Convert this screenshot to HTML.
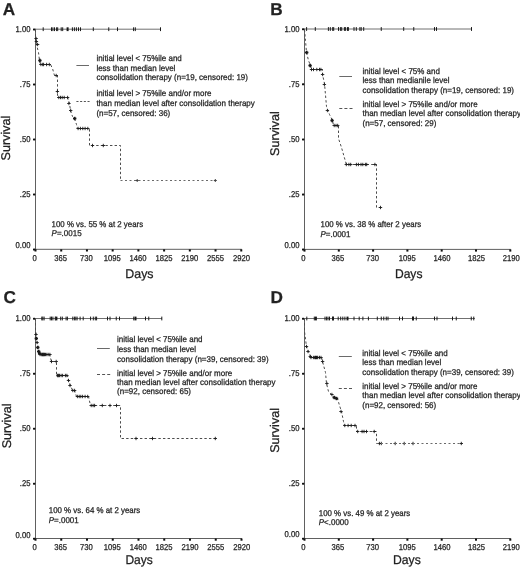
<!DOCTYPE html>
<html><head><meta charset="utf-8"><title>Survival curves</title>
<style>
html,body{margin:0;padding:0;background:#fff;}
body{width:520px;height:567px;overflow:hidden;font-family:"Liberation Sans", sans-serif;}
svg{display:block;font-family:"Liberation Sans", sans-serif;will-change:transform;text-rendering:geometricPrecision;}
.t{fill:#222;stroke:#222;stroke-width:0.25px;}
</style></head>
<body>
<svg width="520" height="567" viewBox="0 0 520 567">
<rect x="0" y="0" width="520" height="567" fill="#ffffff"/>
<g id="panelA">
<line x1="35.50" y1="28.70" x2="35.50" y2="249.80" stroke="#606060" stroke-width="1.0"/>
<line x1="35.00" y1="249.30" x2="241.76" y2="249.30" stroke="#606060" stroke-width="1.0"/>
<rect x="33.00" y="28.40" width="2.3" height="2.0" rx="0.6" fill="#111"/>
<text class="t" transform="translate(30.50,31.70) scale(0.9,1)" font-size="8.5" text-anchor="end">1.00</text>
<rect x="33.00" y="83.43" width="2.3" height="2.0" rx="0.6" fill="#111"/>
<text class="t" transform="translate(30.50,86.73) scale(0.9,1)" font-size="8.5" text-anchor="end">.75</text>
<rect x="33.00" y="138.45" width="2.3" height="2.0" rx="0.6" fill="#111"/>
<text class="t" transform="translate(30.50,141.75) scale(0.9,1)" font-size="8.5" text-anchor="end">.50</text>
<rect x="33.00" y="193.47" width="2.3" height="2.0" rx="0.6" fill="#111"/>
<text class="t" transform="translate(30.50,196.78) scale(0.9,1)" font-size="8.5" text-anchor="end">.25</text>
<rect x="33.00" y="248.50" width="2.3" height="2.0" rx="0.6" fill="#111"/>
<text class="t" transform="translate(30.50,247.60) scale(0.9,1)" font-size="8.5" text-anchor="end">0.00</text>
<rect x="34.50" y="249.30" width="2.0" height="2.2" fill="#111"/>
<text class="t" transform="translate(34.70,260.90) scale(0.9,1)" font-size="8.5" text-anchor="middle">0</text>
<rect x="60.22" y="249.30" width="2.0" height="2.2" fill="#111"/>
<text class="t" transform="translate(60.54,260.90) scale(0.9,1)" font-size="8.5" text-anchor="middle">365</text>
<rect x="85.94" y="249.30" width="2.0" height="2.2" fill="#111"/>
<text class="t" transform="translate(86.38,260.90) scale(0.9,1)" font-size="8.5" text-anchor="middle">730</text>
<rect x="111.66" y="249.30" width="2.0" height="2.2" fill="#111"/>
<text class="t" transform="translate(112.22,260.90) scale(0.9,1)" font-size="8.5" text-anchor="middle">1095</text>
<rect x="137.38" y="249.30" width="2.0" height="2.2" fill="#111"/>
<text class="t" transform="translate(138.06,260.90) scale(0.9,1)" font-size="8.5" text-anchor="middle">1460</text>
<rect x="163.10" y="249.30" width="2.0" height="2.2" fill="#111"/>
<text class="t" transform="translate(163.90,260.90) scale(0.9,1)" font-size="8.5" text-anchor="middle">1825</text>
<rect x="188.82" y="249.30" width="2.0" height="2.2" fill="#111"/>
<text class="t" transform="translate(189.74,260.90) scale(0.9,1)" font-size="8.5" text-anchor="middle">2190</text>
<rect x="214.54" y="249.30" width="2.0" height="2.2" fill="#111"/>
<text class="t" transform="translate(215.58,260.90) scale(0.9,1)" font-size="8.5" text-anchor="middle">2555</text>
<rect x="240.26" y="249.30" width="2.0" height="2.2" fill="#111"/>
<text class="t" transform="translate(241.42,260.90) scale(0.9,1)" font-size="8.5" text-anchor="middle">2920</text>
<text class="t" transform="translate(125.30,277.80) scale(0.985,1)" font-size="12.6">Days</text>
<text class="t" transform="translate(9.80,160.50) rotate(-90) scale(1.0,1)" font-size="12.6">Survival</text>
<text class="t" transform="translate(2.80,14.80) scale(1,1)" font-size="17.2" font-weight="bold" fill="#000" stroke="#000">A</text>
<line x1="35.50" y1="29.20" x2="160.75" y2="29.20" stroke="#707070" stroke-width="1.0"/>
<line x1="43.20" y1="27.30" x2="43.20" y2="31.10" stroke="#1a1a1a" stroke-width="1.0"/>
<line x1="51.50" y1="27.30" x2="51.50" y2="31.10" stroke="#1a1a1a" stroke-width="1.0"/>
<line x1="52.90" y1="27.30" x2="52.90" y2="31.10" stroke="#1a1a1a" stroke-width="1.0"/>
<line x1="54.50" y1="27.30" x2="54.50" y2="31.10" stroke="#1a1a1a" stroke-width="1.0"/>
<line x1="56.60" y1="27.30" x2="56.60" y2="31.10" stroke="#1a1a1a" stroke-width="1.0"/>
<line x1="57.70" y1="27.30" x2="57.70" y2="31.10" stroke="#1a1a1a" stroke-width="1.0"/>
<line x1="61.20" y1="27.30" x2="61.20" y2="31.10" stroke="#1a1a1a" stroke-width="1.0"/>
<line x1="62.70" y1="27.30" x2="62.70" y2="31.10" stroke="#1a1a1a" stroke-width="1.0"/>
<line x1="67.60" y1="27.30" x2="67.60" y2="31.10" stroke="#1a1a1a" stroke-width="2.0"/>
<line x1="72.40" y1="27.30" x2="72.40" y2="31.10" stroke="#1a1a1a" stroke-width="1.0"/>
<line x1="74.40" y1="27.30" x2="74.40" y2="31.10" stroke="#1a1a1a" stroke-width="1.0"/>
<line x1="76.40" y1="27.30" x2="76.40" y2="31.10" stroke="#1a1a1a" stroke-width="1.0"/>
<line x1="78.50" y1="27.30" x2="78.50" y2="31.10" stroke="#1a1a1a" stroke-width="1.0"/>
<line x1="80.50" y1="27.30" x2="80.50" y2="31.10" stroke="#1a1a1a" stroke-width="1.0"/>
<line x1="93.30" y1="27.30" x2="93.30" y2="31.10" stroke="#1a1a1a" stroke-width="1.0"/>
<line x1="108.75" y1="27.30" x2="108.75" y2="31.10" stroke="#1a1a1a" stroke-width="1.0"/>
<line x1="117.50" y1="27.30" x2="117.50" y2="31.10" stroke="#1a1a1a" stroke-width="1.0"/>
<line x1="133.60" y1="27.30" x2="133.60" y2="31.10" stroke="#1a1a1a" stroke-width="1.0"/>
<line x1="135.30" y1="27.30" x2="135.30" y2="31.10" stroke="#1a1a1a" stroke-width="1.0"/>
<line x1="160.50" y1="27.30" x2="160.50" y2="31.10" stroke="#1a1a1a" stroke-width="1.0"/>
<polyline points="35.50,29.50 35.50,40.50 36.50,44.50 38.50,52.50 39.50,60.50 40.50,64.50 50.50,64.50 52.50,68.50 54.50,75.50 57.50,75.50 57.50,97.50 67.50,97.50 69.50,103.50 70.50,110.50 72.50,116.50 74.50,118.50 76.50,124.50 77.50,128.50 89.50,128.50 89.50,145.50 120.50,145.50 120.50,180.50" fill="none" stroke="#4c4c4c" stroke-width="1.0" stroke-dasharray="2.4 2.2"/>
<line x1="36.10" y1="36.80" x2="36.10" y2="40.20" stroke="#1a1a1a" stroke-width="0.9"/>
<line x1="34.40" y1="38.50" x2="37.80" y2="38.50" stroke="#1a1a1a" stroke-width="0.9"/>
<line x1="36.40" y1="39.80" x2="36.40" y2="43.20" stroke="#1a1a1a" stroke-width="0.9"/>
<line x1="34.70" y1="41.50" x2="38.10" y2="41.50" stroke="#1a1a1a" stroke-width="0.9"/>
<line x1="37.60" y1="42.80" x2="37.60" y2="46.20" stroke="#1a1a1a" stroke-width="0.9"/>
<line x1="35.90" y1="44.50" x2="39.30" y2="44.50" stroke="#1a1a1a" stroke-width="0.9"/>
<line x1="39.90" y1="58.80" x2="39.90" y2="62.20" stroke="#1a1a1a" stroke-width="1.7"/>
<line x1="38.20" y1="60.50" x2="41.60" y2="60.50" stroke="#1a1a1a" stroke-width="1.7"/>
<line x1="40.90" y1="62.80" x2="40.90" y2="66.20" stroke="#1a1a1a" stroke-width="0.9"/>
<line x1="39.20" y1="64.50" x2="42.60" y2="64.50" stroke="#1a1a1a" stroke-width="0.9"/>
<line x1="42.70" y1="62.80" x2="42.70" y2="66.20" stroke="#1a1a1a" stroke-width="0.9"/>
<line x1="41.00" y1="64.50" x2="44.40" y2="64.50" stroke="#1a1a1a" stroke-width="0.9"/>
<line x1="43.60" y1="62.80" x2="43.60" y2="66.20" stroke="#1a1a1a" stroke-width="0.9"/>
<line x1="41.90" y1="64.50" x2="45.30" y2="64.50" stroke="#1a1a1a" stroke-width="0.9"/>
<line x1="46.60" y1="62.80" x2="46.60" y2="66.20" stroke="#1a1a1a" stroke-width="0.9"/>
<line x1="44.90" y1="64.50" x2="48.30" y2="64.50" stroke="#1a1a1a" stroke-width="0.9"/>
<line x1="49.30" y1="62.80" x2="49.30" y2="66.20" stroke="#1a1a1a" stroke-width="0.9"/>
<line x1="47.60" y1="64.50" x2="51.00" y2="64.50" stroke="#1a1a1a" stroke-width="0.9"/>
<line x1="56.20" y1="73.80" x2="56.20" y2="77.20" stroke="#1a1a1a" stroke-width="0.9"/>
<line x1="54.50" y1="75.50" x2="57.90" y2="75.50" stroke="#1a1a1a" stroke-width="0.9"/>
<line x1="57.40" y1="89.80" x2="57.40" y2="93.20" stroke="#1a1a1a" stroke-width="0.9"/>
<line x1="55.70" y1="91.50" x2="59.10" y2="91.50" stroke="#1a1a1a" stroke-width="0.9"/>
<line x1="58.80" y1="95.80" x2="58.80" y2="99.20" stroke="#1a1a1a" stroke-width="0.9"/>
<line x1="57.10" y1="97.50" x2="60.50" y2="97.50" stroke="#1a1a1a" stroke-width="0.9"/>
<line x1="60.50" y1="95.80" x2="60.50" y2="99.20" stroke="#1a1a1a" stroke-width="0.9"/>
<line x1="58.80" y1="97.50" x2="62.20" y2="97.50" stroke="#1a1a1a" stroke-width="0.9"/>
<line x1="62.20" y1="95.80" x2="62.20" y2="99.20" stroke="#1a1a1a" stroke-width="0.9"/>
<line x1="60.50" y1="97.50" x2="63.90" y2="97.50" stroke="#1a1a1a" stroke-width="0.9"/>
<line x1="64.20" y1="95.80" x2="64.20" y2="99.20" stroke="#1a1a1a" stroke-width="0.9"/>
<line x1="62.50" y1="97.50" x2="65.90" y2="97.50" stroke="#1a1a1a" stroke-width="0.9"/>
<line x1="67.60" y1="95.80" x2="67.60" y2="99.20" stroke="#1a1a1a" stroke-width="0.9"/>
<line x1="65.90" y1="97.50" x2="69.30" y2="97.50" stroke="#1a1a1a" stroke-width="0.9"/>
<line x1="68.90" y1="101.80" x2="68.90" y2="105.20" stroke="#1a1a1a" stroke-width="0.9"/>
<line x1="67.20" y1="103.50" x2="70.60" y2="103.50" stroke="#1a1a1a" stroke-width="0.9"/>
<line x1="70.70" y1="108.80" x2="70.70" y2="112.20" stroke="#1a1a1a" stroke-width="0.9"/>
<line x1="69.00" y1="110.50" x2="72.40" y2="110.50" stroke="#1a1a1a" stroke-width="0.9"/>
<line x1="74.70" y1="116.80" x2="74.70" y2="120.20" stroke="#1a1a1a" stroke-width="1.7"/>
<line x1="73.00" y1="118.50" x2="76.40" y2="118.50" stroke="#1a1a1a" stroke-width="1.7"/>
<line x1="78.10" y1="126.80" x2="78.10" y2="130.20" stroke="#1a1a1a" stroke-width="0.9"/>
<line x1="76.40" y1="128.50" x2="79.80" y2="128.50" stroke="#1a1a1a" stroke-width="0.9"/>
<line x1="80.40" y1="126.80" x2="80.40" y2="130.20" stroke="#1a1a1a" stroke-width="0.9"/>
<line x1="78.70" y1="128.50" x2="82.10" y2="128.50" stroke="#1a1a1a" stroke-width="0.9"/>
<line x1="82.80" y1="126.80" x2="82.80" y2="130.20" stroke="#1a1a1a" stroke-width="0.9"/>
<line x1="81.10" y1="128.50" x2="84.50" y2="128.50" stroke="#1a1a1a" stroke-width="0.9"/>
<line x1="85.10" y1="126.80" x2="85.10" y2="130.20" stroke="#1a1a1a" stroke-width="0.9"/>
<line x1="83.40" y1="128.50" x2="86.80" y2="128.50" stroke="#1a1a1a" stroke-width="0.9"/>
<line x1="87.80" y1="126.80" x2="87.80" y2="130.20" stroke="#1a1a1a" stroke-width="0.9"/>
<line x1="86.10" y1="128.50" x2="89.50" y2="128.50" stroke="#1a1a1a" stroke-width="0.9"/>
<line x1="92.50" y1="143.80" x2="92.50" y2="147.20" stroke="#1a1a1a" stroke-width="0.9"/>
<line x1="90.80" y1="145.50" x2="94.20" y2="145.50" stroke="#1a1a1a" stroke-width="0.9"/>
<line x1="103.30" y1="143.80" x2="103.30" y2="147.20" stroke="#1a1a1a" stroke-width="0.9"/>
<line x1="101.60" y1="145.50" x2="105.00" y2="145.50" stroke="#1a1a1a" stroke-width="0.9"/>
<polyline points="120.50,180.50 215.50,180.50" fill="none" stroke="#6a6a6a" stroke-width="1.0" stroke-dasharray="2 2.5"/>
<line x1="137.20" y1="179.00" x2="137.20" y2="182.00" stroke="#444" stroke-width="1.0"/>
<line x1="135.70" y1="180.50" x2="138.70" y2="180.50" stroke="#444" stroke-width="1.0"/>
<line x1="215.30" y1="179.00" x2="215.30" y2="182.00" stroke="#444" stroke-width="1.0"/>
<line x1="213.80" y1="180.50" x2="216.80" y2="180.50" stroke="#444" stroke-width="1.0"/>
<line x1="76.40" y1="65.50" x2="89.00" y2="65.50" stroke="#6a6a6a" stroke-width="1.0"/>
<line x1="76.40" y1="101.50" x2="89.60" y2="101.50" stroke="#555" stroke-width="1.0" stroke-dasharray="2.1 1.6"/>
<text class="t" transform="translate(96.40,61.20) scale(0.953,1)" font-size="8.4">initial level &lt; 75%ile and</text>
<text class="t" transform="translate(96.40,70.80) scale(0.953,1)" font-size="8.4">less than median level</text>
<text class="t" transform="translate(96.40,80.40) scale(0.953,1)" font-size="8.4">consolidation therapy (n=19, censored: 19)</text>
<text class="t" transform="translate(96.40,96.20) scale(0.953,1)" font-size="8.4">initial level &gt; 75%ile and/or more</text>
<text class="t" transform="translate(96.40,105.70) scale(0.953,1)" font-size="8.4">than median level after consolidation therapy</text>
<text class="t" transform="translate(96.40,115.60) scale(0.953,1)" font-size="8.4">(n=57, censored: 36)</text>
<text class="t" transform="translate(51.60,226.80) scale(0.9406,1)" font-size="8.4">100 % vs. 55 % at 2 years</text>
<text class="t" transform="translate(51.60,236.10) scale(0.953,1)" font-size="8.4"><tspan font-style="italic">P</tspan>=.0015</text>
</g>
<g id="panelB">
<line x1="304.50" y1="28.50" x2="304.50" y2="249.90" stroke="#606060" stroke-width="1.0"/>
<line x1="304.00" y1="249.40" x2="510.80" y2="249.40" stroke="#606060" stroke-width="1.0"/>
<rect x="302.00" y="28.20" width="2.3" height="2.0" rx="0.6" fill="#111"/>
<text class="t" transform="translate(299.50,31.50) scale(0.9,1)" font-size="8.5" text-anchor="end">1.00</text>
<rect x="302.00" y="83.30" width="2.3" height="2.0" rx="0.6" fill="#111"/>
<text class="t" transform="translate(299.50,86.60) scale(0.9,1)" font-size="8.5" text-anchor="end">.75</text>
<rect x="302.00" y="138.40" width="2.3" height="2.0" rx="0.6" fill="#111"/>
<text class="t" transform="translate(299.50,141.70) scale(0.9,1)" font-size="8.5" text-anchor="end">.50</text>
<rect x="302.00" y="193.50" width="2.3" height="2.0" rx="0.6" fill="#111"/>
<text class="t" transform="translate(299.50,196.80) scale(0.9,1)" font-size="8.5" text-anchor="end">.25</text>
<rect x="302.00" y="248.60" width="2.3" height="2.0" rx="0.6" fill="#111"/>
<text class="t" transform="translate(299.50,248.10) scale(0.9,1)" font-size="8.5" text-anchor="end">0.00</text>
<rect x="303.50" y="249.40" width="2.0" height="2.2" fill="#111"/>
<text class="t" transform="translate(303.30,261.00) scale(0.9,1)" font-size="8.5" text-anchor="middle">0</text>
<rect x="337.80" y="249.40" width="2.0" height="2.2" fill="#111"/>
<text class="t" transform="translate(337.95,261.00) scale(0.9,1)" font-size="8.5" text-anchor="middle">365</text>
<rect x="372.10" y="249.40" width="2.0" height="2.2" fill="#111"/>
<text class="t" transform="translate(372.60,261.00) scale(0.9,1)" font-size="8.5" text-anchor="middle">730</text>
<rect x="406.40" y="249.40" width="2.0" height="2.2" fill="#111"/>
<text class="t" transform="translate(407.25,261.00) scale(0.9,1)" font-size="8.5" text-anchor="middle">1095</text>
<rect x="440.70" y="249.40" width="2.0" height="2.2" fill="#111"/>
<text class="t" transform="translate(441.90,261.00) scale(0.9,1)" font-size="8.5" text-anchor="middle">1460</text>
<rect x="475.00" y="249.40" width="2.0" height="2.2" fill="#111"/>
<text class="t" transform="translate(476.55,261.00) scale(0.9,1)" font-size="8.5" text-anchor="middle">1825</text>
<rect x="509.30" y="249.40" width="2.0" height="2.2" fill="#111"/>
<text class="t" transform="translate(511.20,261.00) scale(0.9,1)" font-size="8.5" text-anchor="middle">2190</text>
<text class="t" transform="translate(394.90,278.20) scale(0.96,1)" font-size="12.6">Days</text>
<text class="t" transform="translate(279.20,155.90) rotate(-90) scale(1.0,1)" font-size="12.6">Survival</text>
<text class="t" transform="translate(270.30,15.00) scale(1,1)" font-size="17.2" font-weight="bold" fill="#000" stroke="#000">B</text>
<line x1="304.50" y1="29.00" x2="471.75" y2="29.00" stroke="#707070" stroke-width="1.0"/>
<line x1="306.60" y1="27.10" x2="306.60" y2="30.90" stroke="#1a1a1a" stroke-width="1.0"/>
<line x1="315.30" y1="27.10" x2="315.30" y2="30.90" stroke="#1a1a1a" stroke-width="1.0"/>
<line x1="328.40" y1="27.10" x2="328.40" y2="30.90" stroke="#1a1a1a" stroke-width="1.0"/>
<line x1="330.30" y1="27.10" x2="330.30" y2="30.90" stroke="#1a1a1a" stroke-width="1.0"/>
<line x1="332.70" y1="27.10" x2="332.70" y2="30.90" stroke="#1a1a1a" stroke-width="1.0"/>
<line x1="333.70" y1="27.10" x2="333.70" y2="30.90" stroke="#1a1a1a" stroke-width="1.0"/>
<line x1="338.50" y1="27.10" x2="338.50" y2="30.90" stroke="#1a1a1a" stroke-width="1.0"/>
<line x1="340.40" y1="27.10" x2="340.40" y2="30.90" stroke="#1a1a1a" stroke-width="1.0"/>
<line x1="341.70" y1="27.10" x2="341.70" y2="30.90" stroke="#1a1a1a" stroke-width="1.0"/>
<line x1="344.40" y1="27.10" x2="344.40" y2="30.90" stroke="#1a1a1a" stroke-width="1.0"/>
<line x1="345.40" y1="27.10" x2="345.40" y2="30.90" stroke="#1a1a1a" stroke-width="1.0"/>
<line x1="347.90" y1="27.10" x2="347.90" y2="30.90" stroke="#1a1a1a" stroke-width="2.0"/>
<line x1="354.00" y1="27.10" x2="354.00" y2="30.90" stroke="#1a1a1a" stroke-width="1.0"/>
<line x1="356.30" y1="27.10" x2="356.30" y2="30.90" stroke="#1a1a1a" stroke-width="1.0"/>
<line x1="359.90" y1="27.10" x2="359.90" y2="30.90" stroke="#1a1a1a" stroke-width="1.0"/>
<line x1="361.20" y1="27.10" x2="361.20" y2="30.90" stroke="#1a1a1a" stroke-width="1.0"/>
<line x1="363.70" y1="27.10" x2="363.70" y2="30.90" stroke="#1a1a1a" stroke-width="1.0"/>
<line x1="381.25" y1="27.10" x2="381.25" y2="30.90" stroke="#1a1a1a" stroke-width="1.0"/>
<line x1="403.70" y1="27.10" x2="403.70" y2="30.90" stroke="#1a1a1a" stroke-width="1.0"/>
<line x1="413.75" y1="27.10" x2="413.75" y2="30.90" stroke="#1a1a1a" stroke-width="1.0"/>
<line x1="434.50" y1="27.10" x2="434.50" y2="30.90" stroke="#1a1a1a" stroke-width="1.0"/>
<line x1="436.50" y1="27.10" x2="436.50" y2="30.90" stroke="#1a1a1a" stroke-width="1.0"/>
<line x1="471.50" y1="27.10" x2="471.50" y2="30.90" stroke="#1a1a1a" stroke-width="1.0"/>
<polyline points="304.50,29.50 305.50,40.50 306.50,52.50 308.50,60.50 310.50,65.50 311.50,69.50 322.50,69.50 322.50,74.50 324.50,83.50 326.50,106.50 329.50,114.50 332.50,120.50 333.50,125.50 338.50,125.50 338.50,138.50 341.50,147.50 345.50,161.50 346.50,164.50 376.50,164.50 376.50,207.50 382.50,207.50" fill="none" stroke="#4c4c4c" stroke-width="1.0" stroke-dasharray="2.4 2.2"/>
<line x1="306.70" y1="50.80" x2="306.70" y2="54.20" stroke="#1a1a1a" stroke-width="1.7"/>
<line x1="305.00" y1="52.50" x2="308.40" y2="52.50" stroke="#1a1a1a" stroke-width="1.7"/>
<line x1="310.10" y1="63.80" x2="310.10" y2="67.20" stroke="#1a1a1a" stroke-width="1.7"/>
<line x1="308.40" y1="65.50" x2="311.80" y2="65.50" stroke="#1a1a1a" stroke-width="1.7"/>
<line x1="311.50" y1="67.80" x2="311.50" y2="71.20" stroke="#1a1a1a" stroke-width="0.9"/>
<line x1="309.80" y1="69.50" x2="313.20" y2="69.50" stroke="#1a1a1a" stroke-width="0.9"/>
<line x1="313.50" y1="67.80" x2="313.50" y2="71.20" stroke="#1a1a1a" stroke-width="0.9"/>
<line x1="311.80" y1="69.50" x2="315.20" y2="69.50" stroke="#1a1a1a" stroke-width="0.9"/>
<line x1="316.80" y1="67.80" x2="316.80" y2="71.20" stroke="#1a1a1a" stroke-width="0.9"/>
<line x1="315.10" y1="69.50" x2="318.50" y2="69.50" stroke="#1a1a1a" stroke-width="0.9"/>
<line x1="319.50" y1="67.80" x2="319.50" y2="71.20" stroke="#1a1a1a" stroke-width="0.9"/>
<line x1="317.80" y1="69.50" x2="321.20" y2="69.50" stroke="#1a1a1a" stroke-width="0.9"/>
<line x1="320.90" y1="67.80" x2="320.90" y2="71.20" stroke="#1a1a1a" stroke-width="0.9"/>
<line x1="319.20" y1="69.50" x2="322.60" y2="69.50" stroke="#1a1a1a" stroke-width="0.9"/>
<line x1="322.60" y1="72.80" x2="322.60" y2="76.20" stroke="#1a1a1a" stroke-width="0.9"/>
<line x1="320.90" y1="74.50" x2="324.30" y2="74.50" stroke="#1a1a1a" stroke-width="0.9"/>
<line x1="324.40" y1="82.80" x2="324.40" y2="86.20" stroke="#1a1a1a" stroke-width="0.9"/>
<line x1="322.70" y1="84.50" x2="326.10" y2="84.50" stroke="#1a1a1a" stroke-width="0.9"/>
<line x1="327.40" y1="108.80" x2="327.40" y2="112.20" stroke="#1a1a1a" stroke-width="0.9"/>
<line x1="325.70" y1="110.50" x2="329.10" y2="110.50" stroke="#1a1a1a" stroke-width="0.9"/>
<line x1="332.10" y1="118.80" x2="332.10" y2="122.20" stroke="#1a1a1a" stroke-width="1.7"/>
<line x1="330.40" y1="120.50" x2="333.80" y2="120.50" stroke="#1a1a1a" stroke-width="1.7"/>
<line x1="334.20" y1="123.80" x2="334.20" y2="127.20" stroke="#1a1a1a" stroke-width="0.9"/>
<line x1="332.50" y1="125.50" x2="335.90" y2="125.50" stroke="#1a1a1a" stroke-width="0.9"/>
<line x1="336.00" y1="123.80" x2="336.00" y2="127.20" stroke="#1a1a1a" stroke-width="0.9"/>
<line x1="334.30" y1="125.50" x2="337.70" y2="125.50" stroke="#1a1a1a" stroke-width="0.9"/>
<line x1="337.70" y1="123.80" x2="337.70" y2="127.20" stroke="#1a1a1a" stroke-width="0.9"/>
<line x1="336.00" y1="125.50" x2="339.40" y2="125.50" stroke="#1a1a1a" stroke-width="0.9"/>
<line x1="346.30" y1="162.80" x2="346.30" y2="166.20" stroke="#1a1a1a" stroke-width="0.9"/>
<line x1="344.60" y1="164.50" x2="348.00" y2="164.50" stroke="#1a1a1a" stroke-width="0.9"/>
<line x1="348.90" y1="162.80" x2="348.90" y2="166.20" stroke="#1a1a1a" stroke-width="0.9"/>
<line x1="347.20" y1="164.50" x2="350.60" y2="164.50" stroke="#1a1a1a" stroke-width="0.9"/>
<line x1="350.70" y1="162.80" x2="350.70" y2="166.20" stroke="#1a1a1a" stroke-width="0.9"/>
<line x1="349.00" y1="164.50" x2="352.40" y2="164.50" stroke="#1a1a1a" stroke-width="0.9"/>
<line x1="356.40" y1="162.80" x2="356.40" y2="166.20" stroke="#1a1a1a" stroke-width="0.9"/>
<line x1="354.70" y1="164.50" x2="358.10" y2="164.50" stroke="#1a1a1a" stroke-width="0.9"/>
<line x1="358.40" y1="162.80" x2="358.40" y2="166.20" stroke="#1a1a1a" stroke-width="0.9"/>
<line x1="356.70" y1="164.50" x2="360.10" y2="164.50" stroke="#1a1a1a" stroke-width="0.9"/>
<line x1="361.00" y1="162.80" x2="361.00" y2="166.20" stroke="#1a1a1a" stroke-width="0.9"/>
<line x1="359.30" y1="164.50" x2="362.70" y2="164.50" stroke="#1a1a1a" stroke-width="0.9"/>
<line x1="362.80" y1="162.80" x2="362.80" y2="166.20" stroke="#1a1a1a" stroke-width="0.9"/>
<line x1="361.10" y1="164.50" x2="364.50" y2="164.50" stroke="#1a1a1a" stroke-width="0.9"/>
<line x1="365.40" y1="162.80" x2="365.40" y2="166.20" stroke="#1a1a1a" stroke-width="0.9"/>
<line x1="363.70" y1="164.50" x2="367.10" y2="164.50" stroke="#1a1a1a" stroke-width="0.9"/>
<line x1="366.70" y1="162.80" x2="366.70" y2="166.20" stroke="#1a1a1a" stroke-width="0.9"/>
<line x1="365.00" y1="164.50" x2="368.40" y2="164.50" stroke="#1a1a1a" stroke-width="0.9"/>
<line x1="374.90" y1="162.80" x2="374.90" y2="166.20" stroke="#1a1a1a" stroke-width="0.9"/>
<line x1="373.20" y1="164.50" x2="376.60" y2="164.50" stroke="#1a1a1a" stroke-width="0.9"/>
<line x1="380.50" y1="205.80" x2="380.50" y2="209.20" stroke="#1a1a1a" stroke-width="0.9"/>
<line x1="378.80" y1="207.50" x2="382.20" y2="207.50" stroke="#1a1a1a" stroke-width="0.9"/>
<line x1="339.30" y1="76.50" x2="352.00" y2="76.50" stroke="#6a6a6a" stroke-width="1.0"/>
<line x1="339.30" y1="108.50" x2="352.60" y2="108.50" stroke="#555" stroke-width="1.0" stroke-dasharray="3 2.1"/>
<text class="t" transform="translate(362.50,73.60) scale(0.953,1)" font-size="8.4">initial level &lt; 75% and</text>
<text class="t" transform="translate(362.50,83.40) scale(0.953,1)" font-size="8.4">less than medianile level</text>
<text class="t" transform="translate(362.50,92.60) scale(0.953,1)" font-size="8.4">consolidation therapy (n=19, censored: 19)</text>
<text class="t" transform="translate(362.50,107.10) scale(0.953,1)" font-size="8.4">initial level &gt; 75%ile and/or more</text>
<text class="t" transform="translate(362.50,115.90) scale(0.953,1)" font-size="8.4">than median level after consolidation therapy</text>
<text class="t" transform="translate(362.50,125.70) scale(0.953,1)" font-size="8.4">(n=57, censored: 29)</text>
<text class="t" transform="translate(320.50,227.00) scale(0.9406,1)" font-size="8.4">100 % vs. 38 % after 2 years</text>
<text class="t" transform="translate(320.50,236.70) scale(0.953,1)" font-size="8.4"><tspan font-style="italic">P</tspan>=.0001</text>
</g>
<g id="panelC">
<line x1="35.50" y1="318.00" x2="35.50" y2="539.00" stroke="#606060" stroke-width="1.0"/>
<line x1="35.00" y1="538.50" x2="242.00" y2="538.50" stroke="#606060" stroke-width="1.0"/>
<rect x="33.00" y="317.70" width="2.3" height="2.0" rx="0.6" fill="#111"/>
<text class="t" transform="translate(30.50,321.00) scale(0.9,1)" font-size="8.5" text-anchor="end">1.00</text>
<rect x="33.00" y="372.70" width="2.3" height="2.0" rx="0.6" fill="#111"/>
<text class="t" transform="translate(30.50,376.00) scale(0.9,1)" font-size="8.5" text-anchor="end">.75</text>
<rect x="33.00" y="427.70" width="2.3" height="2.0" rx="0.6" fill="#111"/>
<text class="t" transform="translate(30.50,431.00) scale(0.9,1)" font-size="8.5" text-anchor="end">.50</text>
<rect x="33.00" y="482.70" width="2.3" height="2.0" rx="0.6" fill="#111"/>
<text class="t" transform="translate(30.50,486.00) scale(0.9,1)" font-size="8.5" text-anchor="end">.25</text>
<rect x="33.00" y="537.70" width="2.3" height="2.0" rx="0.6" fill="#111"/>
<text class="t" transform="translate(30.50,537.70) scale(0.9,1)" font-size="8.5" text-anchor="end">0.00</text>
<rect x="34.50" y="538.50" width="2.0" height="2.2" fill="#111"/>
<text class="t" transform="translate(34.70,550.10) scale(0.9,1)" font-size="8.5" text-anchor="middle">0</text>
<rect x="60.25" y="538.50" width="2.0" height="2.2" fill="#111"/>
<text class="t" transform="translate(60.57,550.10) scale(0.9,1)" font-size="8.5" text-anchor="middle">365</text>
<rect x="86.00" y="538.50" width="2.0" height="2.2" fill="#111"/>
<text class="t" transform="translate(86.44,550.10) scale(0.9,1)" font-size="8.5" text-anchor="middle">730</text>
<rect x="111.75" y="538.50" width="2.0" height="2.2" fill="#111"/>
<text class="t" transform="translate(112.31,550.10) scale(0.9,1)" font-size="8.5" text-anchor="middle">1095</text>
<rect x="137.50" y="538.50" width="2.0" height="2.2" fill="#111"/>
<text class="t" transform="translate(138.18,550.10) scale(0.9,1)" font-size="8.5" text-anchor="middle">1460</text>
<rect x="163.25" y="538.50" width="2.0" height="2.2" fill="#111"/>
<text class="t" transform="translate(164.05,550.10) scale(0.9,1)" font-size="8.5" text-anchor="middle">1825</text>
<rect x="189.00" y="538.50" width="2.0" height="2.2" fill="#111"/>
<text class="t" transform="translate(189.92,550.10) scale(0.9,1)" font-size="8.5" text-anchor="middle">2190</text>
<rect x="214.75" y="538.50" width="2.0" height="2.2" fill="#111"/>
<text class="t" transform="translate(215.79,550.10) scale(0.9,1)" font-size="8.5" text-anchor="middle">2555</text>
<rect x="240.50" y="538.50" width="2.0" height="2.2" fill="#111"/>
<text class="t" transform="translate(241.66,550.10) scale(0.9,1)" font-size="8.5" text-anchor="middle">2920</text>
<text class="t" transform="translate(125.40,564.00) scale(0.955,1)" font-size="12.6">Days</text>
<text class="t" transform="translate(10.50,448.30) rotate(-90) scale(1.0,1)" font-size="12.6">Survival</text>
<text class="t" transform="translate(3.60,303.20) scale(1,1)" font-size="17.2" font-weight="bold" fill="#000" stroke="#000">C</text>
<line x1="35.50" y1="318.50" x2="162.00" y2="318.50" stroke="#707070" stroke-width="1.0"/>
<line x1="41.80" y1="316.60" x2="41.80" y2="320.40" stroke="#1a1a1a" stroke-width="1.0"/>
<line x1="42.80" y1="316.60" x2="42.80" y2="320.40" stroke="#1a1a1a" stroke-width="1.0"/>
<line x1="44.10" y1="316.60" x2="44.10" y2="320.40" stroke="#1a1a1a" stroke-width="1.0"/>
<line x1="50.20" y1="316.60" x2="50.20" y2="320.40" stroke="#1a1a1a" stroke-width="1.0"/>
<line x1="51.50" y1="316.60" x2="51.50" y2="320.40" stroke="#1a1a1a" stroke-width="1.0"/>
<line x1="52.90" y1="316.60" x2="52.90" y2="320.40" stroke="#1a1a1a" stroke-width="1.0"/>
<line x1="55.30" y1="316.60" x2="55.30" y2="320.40" stroke="#1a1a1a" stroke-width="1.0"/>
<line x1="56.40" y1="316.60" x2="56.40" y2="320.40" stroke="#1a1a1a" stroke-width="2.0"/>
<line x1="60.70" y1="316.60" x2="60.70" y2="320.40" stroke="#1a1a1a" stroke-width="1.0"/>
<line x1="62.30" y1="316.60" x2="62.30" y2="320.40" stroke="#1a1a1a" stroke-width="1.0"/>
<line x1="66.10" y1="316.60" x2="66.10" y2="320.40" stroke="#1a1a1a" stroke-width="1.0"/>
<line x1="67.40" y1="316.60" x2="67.40" y2="320.40" stroke="#1a1a1a" stroke-width="1.0"/>
<line x1="72.80" y1="316.60" x2="72.80" y2="320.40" stroke="#1a1a1a" stroke-width="1.0"/>
<line x1="74.40" y1="316.60" x2="74.40" y2="320.40" stroke="#1a1a1a" stroke-width="1.0"/>
<line x1="75.80" y1="316.60" x2="75.80" y2="320.40" stroke="#1a1a1a" stroke-width="1.0"/>
<line x1="77.10" y1="316.60" x2="77.10" y2="320.40" stroke="#1a1a1a" stroke-width="1.0"/>
<line x1="80.10" y1="316.60" x2="80.10" y2="320.40" stroke="#1a1a1a" stroke-width="1.0"/>
<line x1="83.20" y1="316.60" x2="83.20" y2="320.40" stroke="#1a1a1a" stroke-width="1.0"/>
<line x1="90.60" y1="316.60" x2="90.60" y2="320.40" stroke="#1a1a1a" stroke-width="1.0"/>
<line x1="93.30" y1="316.60" x2="93.30" y2="320.40" stroke="#1a1a1a" stroke-width="1.0"/>
<line x1="95.30" y1="316.60" x2="95.30" y2="320.40" stroke="#1a1a1a" stroke-width="1.0"/>
<line x1="96.60" y1="316.60" x2="96.60" y2="320.40" stroke="#1a1a1a" stroke-width="1.0"/>
<line x1="107.50" y1="316.60" x2="107.50" y2="320.40" stroke="#1a1a1a" stroke-width="1.0"/>
<line x1="110.00" y1="316.60" x2="110.00" y2="320.40" stroke="#1a1a1a" stroke-width="1.0"/>
<line x1="116.25" y1="316.60" x2="116.25" y2="320.40" stroke="#1a1a1a" stroke-width="1.0"/>
<line x1="119.50" y1="316.60" x2="119.50" y2="320.40" stroke="#1a1a1a" stroke-width="1.0"/>
<line x1="133.75" y1="316.60" x2="133.75" y2="320.40" stroke="#1a1a1a" stroke-width="1.0"/>
<line x1="135.50" y1="316.60" x2="135.50" y2="320.40" stroke="#1a1a1a" stroke-width="2.0"/>
<line x1="145.50" y1="316.60" x2="145.50" y2="320.40" stroke="#1a1a1a" stroke-width="1.0"/>
<line x1="148.75" y1="316.60" x2="148.75" y2="320.40" stroke="#1a1a1a" stroke-width="1.0"/>
<line x1="161.80" y1="316.60" x2="161.80" y2="320.40" stroke="#1a1a1a" stroke-width="1.0"/>
<polyline points="35.50,318.50 35.50,330.50 36.50,339.50 37.50,342.50 38.50,351.50 39.50,354.50 49.50,354.50 51.50,361.50 56.50,361.50 56.50,375.50 67.50,375.50 68.50,380.50 70.50,385.50 72.50,390.50 74.50,390.50 76.50,396.50 88.50,396.50 90.50,405.50 120.50,405.50 120.50,438.50 215.50,438.50" fill="none" stroke="#4c4c4c" stroke-width="1.0" stroke-dasharray="2.4 2.2"/>
<line x1="36.00" y1="332.80" x2="36.00" y2="336.20" stroke="#1a1a1a" stroke-width="0.9"/>
<line x1="34.30" y1="334.50" x2="37.70" y2="334.50" stroke="#1a1a1a" stroke-width="0.9"/>
<line x1="36.30" y1="336.80" x2="36.30" y2="340.20" stroke="#1a1a1a" stroke-width="1.7"/>
<line x1="34.60" y1="338.50" x2="38.00" y2="338.50" stroke="#1a1a1a" stroke-width="1.7"/>
<line x1="37.00" y1="340.80" x2="37.00" y2="344.20" stroke="#1a1a1a" stroke-width="0.9"/>
<line x1="35.30" y1="342.50" x2="38.70" y2="342.50" stroke="#1a1a1a" stroke-width="0.9"/>
<line x1="37.80" y1="345.80" x2="37.80" y2="349.20" stroke="#1a1a1a" stroke-width="1.7"/>
<line x1="36.10" y1="347.50" x2="39.50" y2="347.50" stroke="#1a1a1a" stroke-width="1.7"/>
<line x1="38.70" y1="349.80" x2="38.70" y2="353.20" stroke="#1a1a1a" stroke-width="1.7"/>
<line x1="37.00" y1="351.50" x2="40.40" y2="351.50" stroke="#1a1a1a" stroke-width="1.7"/>
<line x1="39.60" y1="351.80" x2="39.60" y2="355.20" stroke="#1a1a1a" stroke-width="1.7"/>
<line x1="37.90" y1="353.50" x2="41.30" y2="353.50" stroke="#1a1a1a" stroke-width="1.7"/>
<line x1="40.10" y1="352.80" x2="40.10" y2="356.20" stroke="#1a1a1a" stroke-width="0.9"/>
<line x1="38.40" y1="354.50" x2="41.80" y2="354.50" stroke="#1a1a1a" stroke-width="0.9"/>
<line x1="42.10" y1="352.80" x2="42.10" y2="356.20" stroke="#1a1a1a" stroke-width="1.7"/>
<line x1="40.40" y1="354.50" x2="43.80" y2="354.50" stroke="#1a1a1a" stroke-width="1.7"/>
<line x1="43.20" y1="352.80" x2="43.20" y2="356.20" stroke="#1a1a1a" stroke-width="0.9"/>
<line x1="41.50" y1="354.50" x2="44.90" y2="354.50" stroke="#1a1a1a" stroke-width="0.9"/>
<line x1="44.10" y1="352.80" x2="44.10" y2="356.20" stroke="#1a1a1a" stroke-width="1.7"/>
<line x1="42.40" y1="354.50" x2="45.80" y2="354.50" stroke="#1a1a1a" stroke-width="1.7"/>
<line x1="45.50" y1="352.80" x2="45.50" y2="356.20" stroke="#1a1a1a" stroke-width="0.9"/>
<line x1="43.80" y1="354.50" x2="47.20" y2="354.50" stroke="#1a1a1a" stroke-width="0.9"/>
<line x1="46.80" y1="352.80" x2="46.80" y2="356.20" stroke="#1a1a1a" stroke-width="0.9"/>
<line x1="45.10" y1="354.50" x2="48.50" y2="354.50" stroke="#1a1a1a" stroke-width="0.9"/>
<line x1="48.20" y1="352.80" x2="48.20" y2="356.20" stroke="#1a1a1a" stroke-width="0.9"/>
<line x1="46.50" y1="354.50" x2="49.90" y2="354.50" stroke="#1a1a1a" stroke-width="0.9"/>
<line x1="49.90" y1="352.80" x2="49.90" y2="356.20" stroke="#1a1a1a" stroke-width="0.9"/>
<line x1="48.20" y1="354.50" x2="51.60" y2="354.50" stroke="#1a1a1a" stroke-width="0.9"/>
<line x1="51.50" y1="359.80" x2="51.50" y2="363.20" stroke="#1a1a1a" stroke-width="0.9"/>
<line x1="49.80" y1="361.50" x2="53.20" y2="361.50" stroke="#1a1a1a" stroke-width="0.9"/>
<line x1="56.20" y1="359.80" x2="56.20" y2="363.20" stroke="#1a1a1a" stroke-width="0.9"/>
<line x1="54.50" y1="361.50" x2="57.90" y2="361.50" stroke="#1a1a1a" stroke-width="0.9"/>
<line x1="58.00" y1="373.80" x2="58.00" y2="377.20" stroke="#1a1a1a" stroke-width="1.7"/>
<line x1="56.30" y1="375.50" x2="59.70" y2="375.50" stroke="#1a1a1a" stroke-width="1.7"/>
<line x1="59.50" y1="373.80" x2="59.50" y2="377.20" stroke="#1a1a1a" stroke-width="0.9"/>
<line x1="57.80" y1="375.50" x2="61.20" y2="375.50" stroke="#1a1a1a" stroke-width="0.9"/>
<line x1="61.10" y1="373.80" x2="61.10" y2="377.20" stroke="#1a1a1a" stroke-width="0.9"/>
<line x1="59.40" y1="375.50" x2="62.80" y2="375.50" stroke="#1a1a1a" stroke-width="0.9"/>
<line x1="62.60" y1="373.80" x2="62.60" y2="377.20" stroke="#1a1a1a" stroke-width="0.9"/>
<line x1="60.90" y1="375.50" x2="64.30" y2="375.50" stroke="#1a1a1a" stroke-width="0.9"/>
<line x1="65.40" y1="373.80" x2="65.40" y2="377.20" stroke="#1a1a1a" stroke-width="0.9"/>
<line x1="63.70" y1="375.50" x2="67.10" y2="375.50" stroke="#1a1a1a" stroke-width="0.9"/>
<line x1="66.90" y1="373.80" x2="66.90" y2="377.20" stroke="#1a1a1a" stroke-width="0.9"/>
<line x1="65.20" y1="375.50" x2="68.60" y2="375.50" stroke="#1a1a1a" stroke-width="0.9"/>
<line x1="68.50" y1="378.80" x2="68.50" y2="382.20" stroke="#1a1a1a" stroke-width="0.9"/>
<line x1="66.80" y1="380.50" x2="70.20" y2="380.50" stroke="#1a1a1a" stroke-width="0.9"/>
<line x1="70.00" y1="383.80" x2="70.00" y2="387.20" stroke="#1a1a1a" stroke-width="0.9"/>
<line x1="68.30" y1="385.50" x2="71.70" y2="385.50" stroke="#1a1a1a" stroke-width="0.9"/>
<line x1="72.80" y1="388.80" x2="72.80" y2="392.20" stroke="#1a1a1a" stroke-width="0.9"/>
<line x1="71.10" y1="390.50" x2="74.50" y2="390.50" stroke="#1a1a1a" stroke-width="0.9"/>
<line x1="74.60" y1="388.80" x2="74.60" y2="392.20" stroke="#1a1a1a" stroke-width="0.9"/>
<line x1="72.90" y1="390.50" x2="76.30" y2="390.50" stroke="#1a1a1a" stroke-width="0.9"/>
<line x1="77.40" y1="394.80" x2="77.40" y2="398.20" stroke="#1a1a1a" stroke-width="0.9"/>
<line x1="75.70" y1="396.50" x2="79.10" y2="396.50" stroke="#1a1a1a" stroke-width="0.9"/>
<line x1="79.20" y1="394.80" x2="79.20" y2="398.20" stroke="#1a1a1a" stroke-width="0.9"/>
<line x1="77.50" y1="396.50" x2="80.90" y2="396.50" stroke="#1a1a1a" stroke-width="0.9"/>
<line x1="80.80" y1="394.80" x2="80.80" y2="398.20" stroke="#1a1a1a" stroke-width="0.9"/>
<line x1="79.10" y1="396.50" x2="82.50" y2="396.50" stroke="#1a1a1a" stroke-width="0.9"/>
<line x1="82.60" y1="394.80" x2="82.60" y2="398.20" stroke="#1a1a1a" stroke-width="0.9"/>
<line x1="80.90" y1="396.50" x2="84.30" y2="396.50" stroke="#1a1a1a" stroke-width="0.9"/>
<line x1="85.10" y1="394.80" x2="85.10" y2="398.20" stroke="#1a1a1a" stroke-width="0.9"/>
<line x1="83.40" y1="396.50" x2="86.80" y2="396.50" stroke="#1a1a1a" stroke-width="0.9"/>
<line x1="87.70" y1="394.80" x2="87.70" y2="398.20" stroke="#1a1a1a" stroke-width="0.9"/>
<line x1="86.00" y1="396.50" x2="89.40" y2="396.50" stroke="#1a1a1a" stroke-width="0.9"/>
<line x1="91.20" y1="403.80" x2="91.20" y2="407.20" stroke="#1a1a1a" stroke-width="0.9"/>
<line x1="89.50" y1="405.50" x2="92.90" y2="405.50" stroke="#1a1a1a" stroke-width="0.9"/>
<line x1="93.10" y1="403.80" x2="93.10" y2="407.20" stroke="#1a1a1a" stroke-width="0.9"/>
<line x1="91.40" y1="405.50" x2="94.80" y2="405.50" stroke="#1a1a1a" stroke-width="0.9"/>
<line x1="94.60" y1="403.80" x2="94.60" y2="407.20" stroke="#1a1a1a" stroke-width="0.9"/>
<line x1="92.90" y1="405.50" x2="96.30" y2="405.50" stroke="#1a1a1a" stroke-width="0.9"/>
<line x1="102.30" y1="403.80" x2="102.30" y2="407.20" stroke="#1a1a1a" stroke-width="0.9"/>
<line x1="100.60" y1="405.50" x2="104.00" y2="405.50" stroke="#1a1a1a" stroke-width="0.9"/>
<line x1="110.00" y1="403.80" x2="110.00" y2="407.20" stroke="#1a1a1a" stroke-width="0.9"/>
<line x1="108.30" y1="405.50" x2="111.70" y2="405.50" stroke="#1a1a1a" stroke-width="0.9"/>
<line x1="116.50" y1="403.80" x2="116.50" y2="407.20" stroke="#1a1a1a" stroke-width="0.9"/>
<line x1="114.80" y1="405.50" x2="118.20" y2="405.50" stroke="#1a1a1a" stroke-width="0.9"/>
<line x1="136.00" y1="436.80" x2="136.00" y2="440.20" stroke="#1a1a1a" stroke-width="0.9"/>
<line x1="134.30" y1="438.50" x2="137.70" y2="438.50" stroke="#1a1a1a" stroke-width="0.9"/>
<line x1="152.50" y1="436.80" x2="152.50" y2="440.20" stroke="#1a1a1a" stroke-width="0.9"/>
<line x1="150.80" y1="438.50" x2="154.20" y2="438.50" stroke="#1a1a1a" stroke-width="0.9"/>
<line x1="215.30" y1="436.80" x2="215.30" y2="440.20" stroke="#1a1a1a" stroke-width="0.9"/>
<line x1="213.60" y1="438.50" x2="217.00" y2="438.50" stroke="#1a1a1a" stroke-width="0.9"/>
<line x1="97.00" y1="348.50" x2="109.80" y2="348.50" stroke="#6a6a6a" stroke-width="1.0"/>
<line x1="97.00" y1="374.50" x2="110.40" y2="374.50" stroke="#555" stroke-width="1.0" stroke-dasharray="3 2.1"/>
<text class="t" transform="translate(117.10,342.40) scale(0.953,1)" font-size="8.4">initial level &lt; 75%ile and</text>
<text class="t" transform="translate(117.10,352.20) scale(0.953,1)" font-size="8.4">less than median level</text>
<text class="t" transform="translate(117.10,361.50) scale(0.953,1)" font-size="8.4">consolidation therapy (n=39, censored: 39)</text>
<text class="t" transform="translate(117.10,375.60) scale(0.953,1)" font-size="8.4">initial level &gt; 75%ile and/or more</text>
<text class="t" transform="translate(117.10,384.60) scale(0.953,1)" font-size="8.4">than median level after consolidation therapy</text>
<text class="t" transform="translate(117.10,393.60) scale(0.953,1)" font-size="8.4">(n=92, censored: 65)</text>
<text class="t" transform="translate(48.75,512.80) scale(0.9406,1)" font-size="8.4">100 % vs. 64 % at 2 years</text>
<text class="t" transform="translate(48.75,522.90) scale(0.953,1)" font-size="8.4"><tspan font-style="italic">P</tspan>=.0001</text>
</g>
<g id="panelD">
<line x1="304.50" y1="318.00" x2="304.50" y2="539.00" stroke="#606060" stroke-width="1.0"/>
<line x1="304.00" y1="538.50" x2="510.80" y2="538.50" stroke="#606060" stroke-width="1.0"/>
<rect x="302.00" y="317.70" width="2.3" height="2.0" rx="0.6" fill="#111"/>
<text class="t" transform="translate(299.50,321.00) scale(0.9,1)" font-size="8.5" text-anchor="end">1.00</text>
<rect x="302.00" y="372.70" width="2.3" height="2.0" rx="0.6" fill="#111"/>
<text class="t" transform="translate(299.50,376.00) scale(0.9,1)" font-size="8.5" text-anchor="end">.75</text>
<rect x="302.00" y="427.70" width="2.3" height="2.0" rx="0.6" fill="#111"/>
<text class="t" transform="translate(299.50,431.00) scale(0.9,1)" font-size="8.5" text-anchor="end">.50</text>
<rect x="302.00" y="482.70" width="2.3" height="2.0" rx="0.6" fill="#111"/>
<text class="t" transform="translate(299.50,486.00) scale(0.9,1)" font-size="8.5" text-anchor="end">.25</text>
<rect x="302.00" y="537.70" width="2.3" height="2.0" rx="0.6" fill="#111"/>
<text class="t" transform="translate(299.50,537.20) scale(0.9,1)" font-size="8.5" text-anchor="end">0.00</text>
<rect x="303.50" y="538.50" width="2.0" height="2.2" fill="#111"/>
<text class="t" transform="translate(303.30,550.10) scale(0.9,1)" font-size="8.5" text-anchor="middle">0</text>
<rect x="337.80" y="538.50" width="2.0" height="2.2" fill="#111"/>
<text class="t" transform="translate(337.95,550.10) scale(0.9,1)" font-size="8.5" text-anchor="middle">365</text>
<rect x="372.10" y="538.50" width="2.0" height="2.2" fill="#111"/>
<text class="t" transform="translate(372.60,550.10) scale(0.9,1)" font-size="8.5" text-anchor="middle">730</text>
<rect x="406.40" y="538.50" width="2.0" height="2.2" fill="#111"/>
<text class="t" transform="translate(407.25,550.10) scale(0.9,1)" font-size="8.5" text-anchor="middle">1095</text>
<rect x="440.70" y="538.50" width="2.0" height="2.2" fill="#111"/>
<text class="t" transform="translate(441.90,550.10) scale(0.9,1)" font-size="8.5" text-anchor="middle">1460</text>
<rect x="475.00" y="538.50" width="2.0" height="2.2" fill="#111"/>
<text class="t" transform="translate(476.55,550.10) scale(0.9,1)" font-size="8.5" text-anchor="middle">1825</text>
<rect x="509.30" y="538.50" width="2.0" height="2.2" fill="#111"/>
<text class="t" transform="translate(511.20,550.10) scale(0.9,1)" font-size="8.5" text-anchor="middle">2190</text>
<text class="t" transform="translate(393.00,563.90) scale(0.97,1)" font-size="12.6">Days</text>
<text class="t" transform="translate(279.20,452.80) rotate(-90) scale(1.0,1)" font-size="12.6">Survival</text>
<text class="t" transform="translate(270.40,303.20) scale(1,1)" font-size="17.2" font-weight="bold" fill="#000" stroke="#000">D</text>
<line x1="304.50" y1="318.50" x2="475.00" y2="318.50" stroke="#707070" stroke-width="1.0"/>
<line x1="306.80" y1="316.60" x2="306.80" y2="320.40" stroke="#1a1a1a" stroke-width="1.0"/>
<line x1="314.30" y1="316.60" x2="314.30" y2="320.40" stroke="#1a1a1a" stroke-width="1.0"/>
<line x1="315.90" y1="316.60" x2="315.90" y2="320.40" stroke="#1a1a1a" stroke-width="2.0"/>
<line x1="325.00" y1="316.60" x2="325.00" y2="320.40" stroke="#1a1a1a" stroke-width="1.0"/>
<line x1="326.60" y1="316.60" x2="326.60" y2="320.40" stroke="#1a1a1a" stroke-width="1.0"/>
<line x1="328.00" y1="316.60" x2="328.00" y2="320.40" stroke="#1a1a1a" stroke-width="1.0"/>
<line x1="329.50" y1="316.60" x2="329.50" y2="320.40" stroke="#1a1a1a" stroke-width="1.0"/>
<line x1="333.00" y1="316.60" x2="333.00" y2="320.40" stroke="#1a1a1a" stroke-width="2.0"/>
<line x1="338.20" y1="316.60" x2="338.20" y2="320.40" stroke="#1a1a1a" stroke-width="1.0"/>
<line x1="340.70" y1="316.60" x2="340.70" y2="320.40" stroke="#1a1a1a" stroke-width="1.0"/>
<line x1="342.80" y1="316.60" x2="342.80" y2="320.40" stroke="#1a1a1a" stroke-width="1.0"/>
<line x1="344.90" y1="316.60" x2="344.90" y2="320.40" stroke="#1a1a1a" stroke-width="1.0"/>
<line x1="347.50" y1="316.60" x2="347.50" y2="320.40" stroke="#1a1a1a" stroke-width="2.0"/>
<line x1="354.00" y1="316.60" x2="354.00" y2="320.40" stroke="#1a1a1a" stroke-width="1.0"/>
<line x1="359.20" y1="316.60" x2="359.20" y2="320.40" stroke="#1a1a1a" stroke-width="1.0"/>
<line x1="362.90" y1="316.60" x2="362.90" y2="320.40" stroke="#1a1a1a" stroke-width="1.0"/>
<line x1="368.40" y1="316.60" x2="368.40" y2="320.40" stroke="#1a1a1a" stroke-width="1.0"/>
<line x1="377.30" y1="316.60" x2="377.30" y2="320.40" stroke="#1a1a1a" stroke-width="1.0"/>
<line x1="381.25" y1="316.60" x2="381.25" y2="320.40" stroke="#1a1a1a" stroke-width="1.0"/>
<line x1="383.75" y1="316.60" x2="383.75" y2="320.40" stroke="#1a1a1a" stroke-width="1.0"/>
<line x1="386.25" y1="316.60" x2="386.25" y2="320.40" stroke="#1a1a1a" stroke-width="1.0"/>
<line x1="388.00" y1="316.60" x2="388.00" y2="320.40" stroke="#1a1a1a" stroke-width="1.0"/>
<line x1="399.50" y1="316.60" x2="399.50" y2="320.40" stroke="#1a1a1a" stroke-width="1.0"/>
<line x1="402.50" y1="316.60" x2="402.50" y2="320.40" stroke="#1a1a1a" stroke-width="1.0"/>
<line x1="413.00" y1="316.60" x2="413.00" y2="320.40" stroke="#1a1a1a" stroke-width="2.0"/>
<line x1="416.25" y1="316.60" x2="416.25" y2="320.40" stroke="#1a1a1a" stroke-width="1.0"/>
<line x1="434.50" y1="316.60" x2="434.50" y2="320.40" stroke="#1a1a1a" stroke-width="1.0"/>
<line x1="437.00" y1="316.60" x2="437.00" y2="320.40" stroke="#1a1a1a" stroke-width="1.0"/>
<line x1="452.50" y1="316.60" x2="452.50" y2="320.40" stroke="#1a1a1a" stroke-width="1.0"/>
<line x1="456.25" y1="316.60" x2="456.25" y2="320.40" stroke="#1a1a1a" stroke-width="1.0"/>
<line x1="471.25" y1="316.60" x2="471.25" y2="320.40" stroke="#1a1a1a" stroke-width="1.0"/>
<line x1="473.75" y1="316.60" x2="473.75" y2="320.40" stroke="#1a1a1a" stroke-width="1.0"/>
<polyline points="304.50,318.50 304.50,331.50 306.50,346.50 308.50,351.50 310.50,356.50 311.50,357.50 321.50,357.50 322.50,361.50 325.50,372.50 326.50,383.50 328.50,391.50 331.50,394.50 334.50,398.50 337.50,398.50 339.50,405.50 341.50,411.50 343.50,421.50 344.50,425.50 356.50,425.50 356.50,431.50 376.50,431.50 376.50,443.50" fill="none" stroke="#4c4c4c" stroke-width="1.0" stroke-dasharray="2.4 2.2"/>
<line x1="306.50" y1="344.80" x2="306.50" y2="348.20" stroke="#1a1a1a" stroke-width="0.9"/>
<line x1="304.80" y1="346.50" x2="308.20" y2="346.50" stroke="#1a1a1a" stroke-width="0.9"/>
<line x1="308.00" y1="349.80" x2="308.00" y2="353.20" stroke="#1a1a1a" stroke-width="0.9"/>
<line x1="306.30" y1="351.50" x2="309.70" y2="351.50" stroke="#1a1a1a" stroke-width="0.9"/>
<line x1="310.30" y1="354.80" x2="310.30" y2="358.20" stroke="#1a1a1a" stroke-width="0.9"/>
<line x1="308.60" y1="356.50" x2="312.00" y2="356.50" stroke="#1a1a1a" stroke-width="0.9"/>
<line x1="311.00" y1="355.80" x2="311.00" y2="359.20" stroke="#1a1a1a" stroke-width="0.9"/>
<line x1="309.30" y1="357.50" x2="312.70" y2="357.50" stroke="#1a1a1a" stroke-width="0.9"/>
<line x1="313.40" y1="355.80" x2="313.40" y2="359.20" stroke="#1a1a1a" stroke-width="0.9"/>
<line x1="311.70" y1="357.50" x2="315.10" y2="357.50" stroke="#1a1a1a" stroke-width="0.9"/>
<line x1="315.20" y1="355.80" x2="315.20" y2="359.20" stroke="#1a1a1a" stroke-width="1.7"/>
<line x1="313.50" y1="357.50" x2="316.90" y2="357.50" stroke="#1a1a1a" stroke-width="1.7"/>
<line x1="316.50" y1="355.80" x2="316.50" y2="359.20" stroke="#1a1a1a" stroke-width="1.7"/>
<line x1="314.80" y1="357.50" x2="318.20" y2="357.50" stroke="#1a1a1a" stroke-width="1.7"/>
<line x1="317.70" y1="355.80" x2="317.70" y2="359.20" stroke="#1a1a1a" stroke-width="0.9"/>
<line x1="316.00" y1="357.50" x2="319.40" y2="357.50" stroke="#1a1a1a" stroke-width="0.9"/>
<line x1="319.50" y1="355.80" x2="319.50" y2="359.20" stroke="#1a1a1a" stroke-width="0.9"/>
<line x1="317.80" y1="357.50" x2="321.20" y2="357.50" stroke="#1a1a1a" stroke-width="0.9"/>
<line x1="321.00" y1="355.80" x2="321.00" y2="359.20" stroke="#1a1a1a" stroke-width="0.9"/>
<line x1="319.30" y1="357.50" x2="322.70" y2="357.50" stroke="#1a1a1a" stroke-width="0.9"/>
<line x1="322.60" y1="359.80" x2="322.60" y2="363.20" stroke="#1a1a1a" stroke-width="0.9"/>
<line x1="320.90" y1="361.50" x2="324.30" y2="361.50" stroke="#1a1a1a" stroke-width="0.9"/>
<line x1="326.90" y1="381.80" x2="326.90" y2="385.20" stroke="#1a1a1a" stroke-width="0.9"/>
<line x1="325.20" y1="383.50" x2="328.60" y2="383.50" stroke="#1a1a1a" stroke-width="0.9"/>
<line x1="331.90" y1="392.80" x2="331.90" y2="396.20" stroke="#1a1a1a" stroke-width="0.9"/>
<line x1="330.20" y1="394.50" x2="333.60" y2="394.50" stroke="#1a1a1a" stroke-width="0.9"/>
<line x1="334.20" y1="395.80" x2="334.20" y2="399.20" stroke="#1a1a1a" stroke-width="1.7"/>
<line x1="332.50" y1="397.50" x2="335.90" y2="397.50" stroke="#1a1a1a" stroke-width="1.7"/>
<line x1="336.50" y1="396.80" x2="336.50" y2="400.20" stroke="#1a1a1a" stroke-width="1.7"/>
<line x1="334.80" y1="398.50" x2="338.20" y2="398.50" stroke="#1a1a1a" stroke-width="1.7"/>
<line x1="341.00" y1="409.80" x2="341.00" y2="413.20" stroke="#1a1a1a" stroke-width="0.9"/>
<line x1="339.30" y1="411.50" x2="342.70" y2="411.50" stroke="#1a1a1a" stroke-width="0.9"/>
<line x1="344.80" y1="423.80" x2="344.80" y2="427.20" stroke="#1a1a1a" stroke-width="0.9"/>
<line x1="343.10" y1="425.50" x2="346.50" y2="425.50" stroke="#1a1a1a" stroke-width="0.9"/>
<line x1="348.10" y1="423.80" x2="348.10" y2="427.20" stroke="#1a1a1a" stroke-width="0.9"/>
<line x1="346.40" y1="425.50" x2="349.80" y2="425.50" stroke="#1a1a1a" stroke-width="0.9"/>
<line x1="351.20" y1="423.80" x2="351.20" y2="427.20" stroke="#1a1a1a" stroke-width="0.9"/>
<line x1="349.50" y1="425.50" x2="352.90" y2="425.50" stroke="#1a1a1a" stroke-width="0.9"/>
<line x1="355.00" y1="423.80" x2="355.00" y2="427.20" stroke="#1a1a1a" stroke-width="0.9"/>
<line x1="353.30" y1="425.50" x2="356.70" y2="425.50" stroke="#1a1a1a" stroke-width="0.9"/>
<line x1="357.70" y1="429.80" x2="357.70" y2="433.20" stroke="#1a1a1a" stroke-width="0.9"/>
<line x1="356.00" y1="431.50" x2="359.40" y2="431.50" stroke="#1a1a1a" stroke-width="0.9"/>
<line x1="362.10" y1="429.80" x2="362.10" y2="433.20" stroke="#1a1a1a" stroke-width="0.9"/>
<line x1="360.40" y1="431.50" x2="363.80" y2="431.50" stroke="#1a1a1a" stroke-width="0.9"/>
<line x1="364.00" y1="429.80" x2="364.00" y2="433.20" stroke="#1a1a1a" stroke-width="0.9"/>
<line x1="362.30" y1="431.50" x2="365.70" y2="431.50" stroke="#1a1a1a" stroke-width="0.9"/>
<line x1="366.50" y1="429.80" x2="366.50" y2="433.20" stroke="#1a1a1a" stroke-width="0.9"/>
<line x1="364.80" y1="431.50" x2="368.20" y2="431.50" stroke="#1a1a1a" stroke-width="0.9"/>
<line x1="374.20" y1="429.80" x2="374.20" y2="433.20" stroke="#1a1a1a" stroke-width="0.9"/>
<line x1="372.50" y1="431.50" x2="375.90" y2="431.50" stroke="#1a1a1a" stroke-width="0.9"/>
<line x1="379.40" y1="441.80" x2="379.40" y2="445.20" stroke="#1a1a1a" stroke-width="0.9"/>
<line x1="377.70" y1="443.50" x2="381.10" y2="443.50" stroke="#1a1a1a" stroke-width="0.9"/>
<line x1="381.30" y1="441.80" x2="381.30" y2="445.20" stroke="#1a1a1a" stroke-width="0.9"/>
<line x1="379.60" y1="443.50" x2="383.00" y2="443.50" stroke="#1a1a1a" stroke-width="0.9"/>
<line x1="395.20" y1="441.80" x2="395.20" y2="445.20" stroke="#1a1a1a" stroke-width="0.9"/>
<line x1="393.50" y1="443.50" x2="396.90" y2="443.50" stroke="#1a1a1a" stroke-width="0.9"/>
<line x1="404.20" y1="441.80" x2="404.20" y2="445.20" stroke="#1a1a1a" stroke-width="0.9"/>
<line x1="402.50" y1="443.50" x2="405.90" y2="443.50" stroke="#1a1a1a" stroke-width="0.9"/>
<line x1="413.00" y1="441.80" x2="413.00" y2="445.20" stroke="#1a1a1a" stroke-width="0.9"/>
<line x1="411.30" y1="443.50" x2="414.70" y2="443.50" stroke="#1a1a1a" stroke-width="0.9"/>
<line x1="461.30" y1="441.80" x2="461.30" y2="445.20" stroke="#1a1a1a" stroke-width="0.9"/>
<line x1="459.60" y1="443.50" x2="463.00" y2="443.50" stroke="#1a1a1a" stroke-width="0.9"/>
<polyline points="376.50,443.50 461.50,443.50" fill="none" stroke="#6a6a6a" stroke-width="1.0" stroke-dasharray="2 2.5"/>
<line x1="338.80" y1="356.50" x2="351.80" y2="356.50" stroke="#6a6a6a" stroke-width="1.0"/>
<line x1="338.80" y1="388.50" x2="352.40" y2="388.50" stroke="#555" stroke-width="1.0" stroke-dasharray="3 2.1"/>
<text class="t" transform="translate(362.30,355.70) scale(0.953,1)" font-size="8.4">initial level &lt; 75%ile and</text>
<text class="t" transform="translate(362.30,365.40) scale(0.953,1)" font-size="8.4">less than median level</text>
<text class="t" transform="translate(362.30,375.10) scale(0.953,1)" font-size="8.4">consolidation therapy (n=39, censored: 39)</text>
<text class="t" transform="translate(362.30,388.70) scale(0.953,1)" font-size="8.4">initial level &gt; 75%ile and/or more</text>
<text class="t" transform="translate(362.30,397.80) scale(0.953,1)" font-size="8.4">than median level after consolidation therapy</text>
<text class="t" transform="translate(362.30,408.10) scale(0.953,1)" font-size="8.4">(n=92, censored: 56)</text>
<text class="t" transform="translate(318.75,515.70) scale(0.9406,1)" font-size="8.4">100 % vs. 49 % at 2 years</text>
<text class="t" transform="translate(318.75,524.60) scale(0.953,1)" font-size="8.4"><tspan font-style="italic">P</tspan>&lt;.0000</text>
</g>
</svg>
</body></html>
